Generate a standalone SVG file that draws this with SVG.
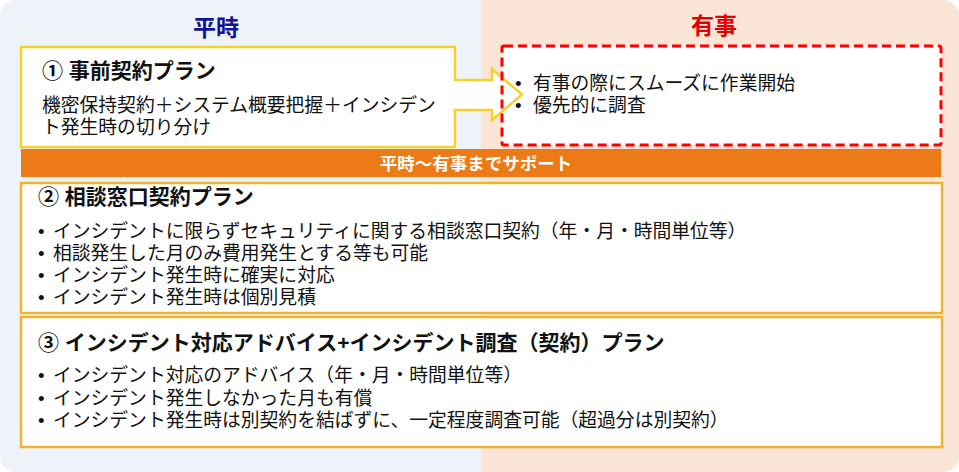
<svg xmlns="http://www.w3.org/2000/svg" width="959" height="472" viewBox="0 0 959 472">
<defs>
<style>
.t{font-family:'Liberation Sans','Noto Sans CJK JP',sans-serif;fill:#111;}
.h{font-size:21px;font-weight:bold;}
.b{font-size:18.8px;}
.box{fill:#fff;stroke:#efb42c;stroke-width:2.5;}
</style>
<clipPath id="bg"><rect x="0" y="0" width="959" height="472" rx="16"/></clipPath>
</defs>
<g id="background" clip-path="url(#bg)">
<rect x="0" y="0" width="959" height="472" fill="#fbe5d6"/>
<rect x="0" y="0" width="481" height="472" fill="#eef3f9"/>
</g>
<text class="t" x="216" y="36" text-anchor="middle" style="font-size:23px;font-weight:bold;fill:#131396">平時</text>
<text class="t" x="714" y="34" text-anchor="middle" style="font-size:23px;font-weight:bold;fill:#e60000">有事</text>

<g id="emergency">
<rect x="502" y="46" width="439" height="99" fill="#fff"/>
</g>
<g id="plan1">
<path d="M21,47 H455 V80 H492 V69 L522,94.5 L492,120 V110 H455 V147 H21 Z" fill="#fff" stroke="#f5d22a" stroke-width="2.5" stroke-linejoin="miter"/>
<text class="t h" x="42" y="78">① 事前契約プラン</text>
<text class="t b" x="42" y="112">機密保持契約＋システム概要把握＋インシデン</text>
<text class="t b" x="42" y="134">ト発生時の切り分け</text>
</g>
<g id="emergency-border">
<rect x="502" y="46" width="439" height="99" rx="2" fill="none" stroke="#ff0000" stroke-width="3" stroke-dasharray="9 5"/>
<text class="t b" x="515" y="90">•</text>
<text class="t b" x="533" y="90">有事の際にスムーズに作業開始</text>
<text class="t b" x="515" y="112">•</text>
<text class="t b" x="533" y="112">優先的に調査</text>
</g>

<g id="support-bar">
<rect x="21" y="149" width="920" height="28" fill="#ec7a16"/>
<text class="t" x="476" y="170" text-anchor="middle" style="font-size:17.5px;font-weight:bold;fill:#fff">平時～有事までサポート</text>
</g>

<g id="plan2">
<rect class="box" x="21" y="183" width="921" height="130"/>
<text class="t h" x="38" y="204">② 相談窓口契約プラン</text>
<text class="t b" x="38" y="238">•</text>
<text class="t b" x="53" y="238">インシデントに限らずセキュリティに関する相談窓口契約（年・月・時間単位等）</text>
<text class="t b" x="38" y="260">•</text>
<text class="t b" x="53" y="260">相談発生した月のみ費用発生とする等も可能</text>
<text class="t b" x="38" y="282">•</text>
<text class="t b" x="53" y="282">インシデント発生時に確実に対応</text>
<text class="t b" x="38" y="304">•</text>
<text class="t b" x="53" y="304">インシデント発生時は個別見積</text>
</g>

<g id="plan3">
<rect class="box" x="21" y="317" width="921" height="130"/>
<text class="t h" x="38" y="350">③ インシデント対応アドバイス+インシデント調査（契約）プラン</text>
<text class="t b" x="38" y="382">•</text>
<text class="t b" x="53" y="382">インシデント対応のアドバイス（年・月・時間単位等）</text>
<text class="t b" x="38" y="405">•</text>
<text class="t b" x="53" y="405">インシデント発生しなかった月も有償</text>
<text class="t b" x="38" y="427">•</text>
<text class="t b" x="53" y="427">インシデント発生時は別契約を結ばずに、一定程度調査可能（超過分は別契約）</text>
</g>
<g id="connectors"></g>
</svg>
